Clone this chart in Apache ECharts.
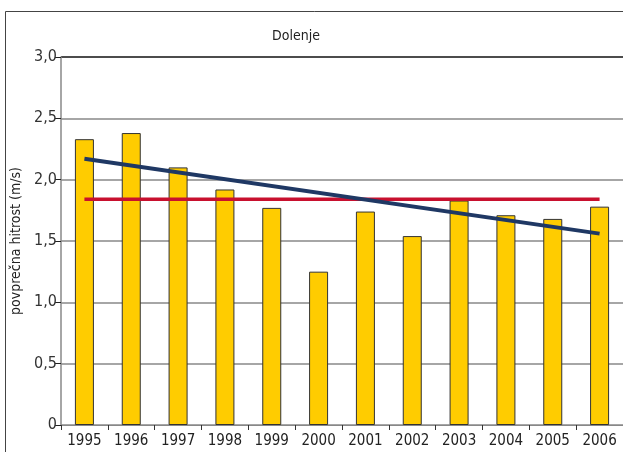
<!DOCTYPE html>
<html>
<head>
<meta charset="utf-8">
<script src="https://cdn.jsdelivr.net/npm/echarts@6/dist/echarts.min.js"></script>
<style>
  html, body { margin: 0; padding: 0; background: #fff; }
  #chart { width: 623px; height: 452px; }
</style>
</head>
<body>
<div id="chart"></div>
<script>
// leta
const years = ['1995', '1996', '1997', '1998', '1999', '2000', '2001', '2002', '2003', '2004', '2005', '2006'];
// povprečna hitrost vetra (m/s)
const speeds = [2.33, 2.38, 2.10, 1.92, 1.77, 1.25, 1.74, 1.54, 1.83, 1.71, 1.68, 1.78];
// povprečje obdobja (začetek, konec)
const meanLine = [1.84, 1.84];
// linearni trend (začetek, konec)
const trendLine = [2.17, 1.56];

const font = '"DejaVu Sans Condensed", "Liberation Sans Narrow", sans-serif';
const chart = echarts.init(document.getElementById('chart'), null, { renderer: 'canvas' });

chart.setOption({
    animation: false,
    backgroundColor: '#fff',
    title: {
        text: 'Dolenje',
        left: 291,
        top: 24,
        textAlign: 'center',
        textStyle: { fontFamily: font, fontSize: 14, fontWeight: 'normal', color: '#222' }
    },
    graphic: [
        {
            type: 'rect',
            shape: { x: 5.5, y: 11.5, width: 700, height: 500 },
            style: { fill: 'none', stroke: '#444', lineWidth: 1 },
            z: 0
        }
    ],
    grid: { left: 61, top: 57, width: 564, height: 368 },
    xAxis: {
        type: 'category',
        data: years,
        axisLine: { lineStyle: { color: '#888', width: 1 } },
        axisTick: { show: true, length: 5, interval: 0, lineStyle: { color: '#333' } },
        axisLabel: { fontFamily: font, fontSize: 15, color: '#222', margin: 9, interval: 0 }
    },
    yAxis: {
        type: 'value',
        min: 0,
        max: 3,
        interval: 0.5,
        name: 'povprečna hitrost (m/s)',
        nameLocation: 'middle',
        nameGap: 35,
        nameRotate: 90,
        nameTextStyle: { fontFamily: font, fontSize: 14, color: '#222' },
        axisLine: { show: true, lineStyle: { color: '#888', width: 1.5 } },
        axisTick: { show: true, length: 6, lineStyle: { color: '#222' } },
        axisLabel: {
            fontFamily: font,
            fontSize: 16,
            color: '#333',
            margin: 4,
            formatter: (v) => (v === 0 ? '0' : v.toFixed(1).replace('.', ','))
        },
        splitLine: {
            show: true,
            lineStyle: { color: ['#888', '#888', '#888', '#888', '#888', '#888', '#111'], width: 1.5 }
        }
    },
    series: [
        {
            name: 'hitrost',
            type: 'bar',
            data: speeds,
            barWidth: 19,
            itemStyle: { color: '#ffcc00', borderColor: '#333', borderWidth: 1 },
            z: 2
        },
        {
            name: 'povprečje',
            type: 'line',
            data: [[years[0], meanLine[0]], [years[years.length - 1], meanLine[1]]],
            symbol: 'none',
            lineStyle: { color: '#c8102e', width: 3.5 },
            z: 3
        },
        {
            name: 'trend',
            type: 'line',
            data: [[years[0], trendLine[0]], [years[years.length - 1], trendLine[1]]],
            symbol: 'none',
            lineStyle: { color: '#1f3864', width: 4 },
            z: 4
        }
    ]
});
</script>
</body>
</html>
